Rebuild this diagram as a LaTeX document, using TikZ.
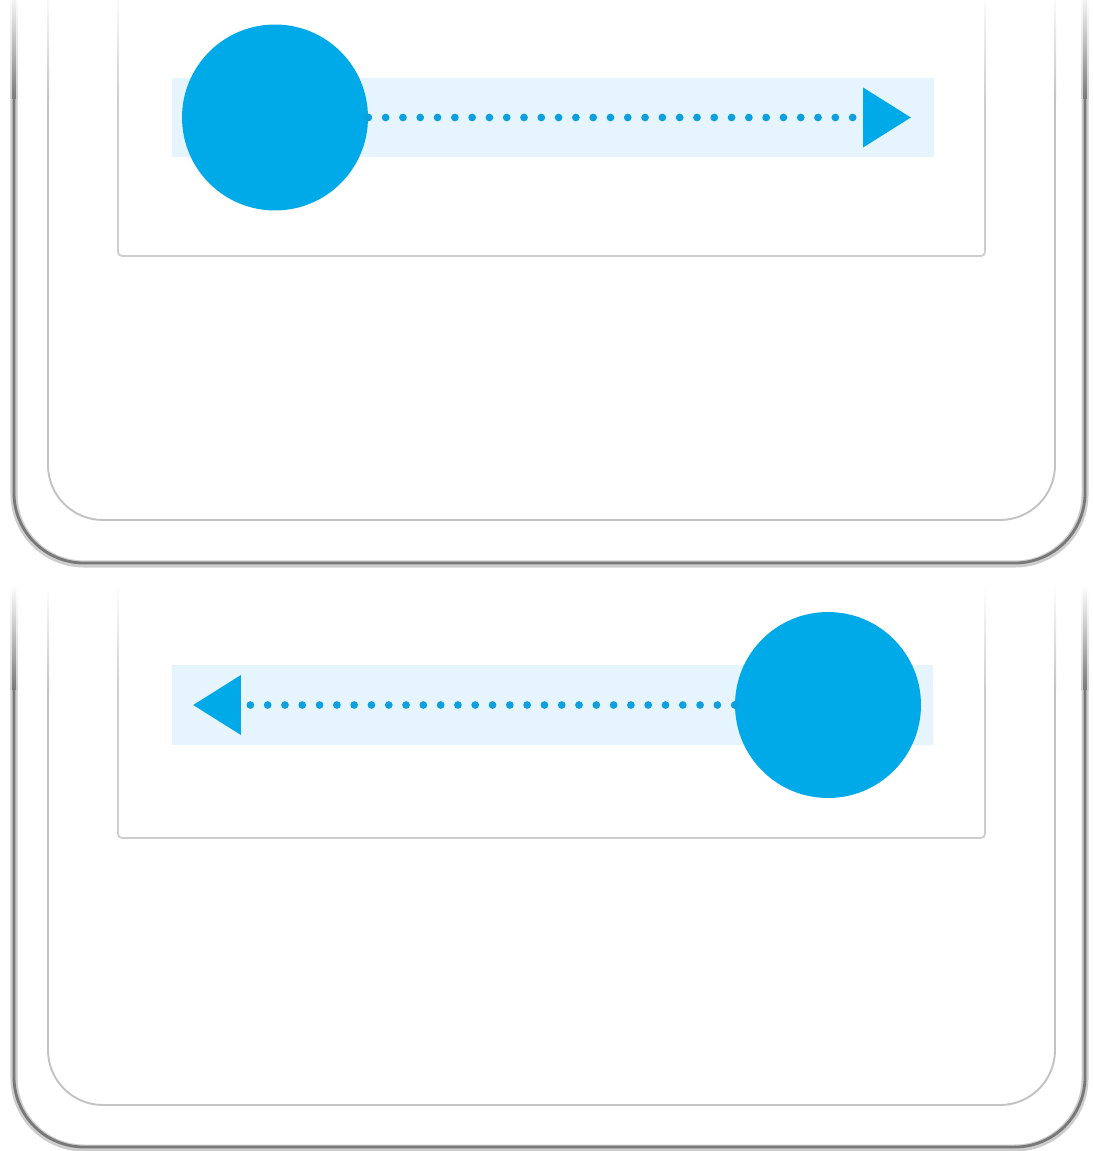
\documentclass[tikz,border=0pt]{standalone}
\usepackage{tikz}
\usetikzlibrary{arrows.meta, positioning}
\definecolor{knobblue}{RGB}{0, 169, 232}
\definecolor{dotblue}{RGB}{14, 160, 222}
\definecolor{trackblue}{RGB}{230, 244, 253}
\definecolor{framegray}{RGB}{120, 120, 120}
\definecolor{shadowgray}{RGB}{205, 205, 205}
\definecolor{innergray}{RGB}{195, 195, 195}
\definecolor{cardgray}{RGB}{205, 205, 205}

% side lines that fade out towards the top of a panel
\newcommand{\fadesides}[2]{%
    \foreach \xs in {14,1085} {
        \shade[top color=white, bottom color=shadowgray] (\xs-3.5,#1) rectangle (\xs+3.5,#2);
        \shade[top color=white, bottom color=framegray] (\xs-1.4,#1) rectangle (\xs+1.4,#2);
    }
    \foreach \xs in {48,1055}
        \shade[top color=white, bottom color=innergray] (\xs-1,#1) rectangle (\xs+1,#2);
    \foreach \xs in {118,985}
        \shade[top color=white, bottom color=cardgray] (\xs-0.9,#1) rectangle (\xs+0.9,#2);
}

\begin{document}
\begin{tikzpicture}[
    x=0.02cm, y=-0.02cm,
    outerframe/.style={draw=framegray, line width=1.6pt, rounded corners=1.4cm},
    outershadow/.style={draw=shadowgray, line width=4pt, rounded corners=1.4cm},
    innerframe/.style={draw=innergray, line width=1.1pt, rounded corners=1.1cm},
    card/.style={draw=cardgray, line width=1pt, rounded corners=0.08cm},
    track/.style={fill=trackblue, draw=none},
    knob/.style={circle, fill=knobblue, draw=none, minimum size=3.72cm, inner sep=0pt},
    slide/.style={dotblue, line width=4.4pt, line cap=round, dash pattern=on 0pt off 0.346cm,
        -{Triangle[length=0.96cm, width=1.16cm, line cap=butt, color=knobblue]}}
]
    \useasboundingbox (0,0) rectangle (1092,1151);

    % top panel
    \fadesides{-10}{100}
    \draw[outershadow] (14,100) -- (14,564) -- (1085,564) -- (1085,100);
    \draw[outerframe] (14,100) -- (14,563) -- (1085,563) -- (1085,100);
    \draw[innerframe] (48,100) -- (48,520) -- (1055,520) -- (1055,100);
    \draw[card] (118,100) -- (118,256) -- (985,256) -- (985,100);

    \fill[track] (172,78) rectangle (934,157);
    \node[knob] (knobA) at (275,117.5) {};
    \coordinate (tipA) at (911,117.5);
    \draw[slide] (knobA.east) -- (tipA);

    % bottom panel
    \fadesides{585}{690}
    \draw[outershadow] (14,690) -- (14,1148) -- (1085,1148) -- (1085,690);
    \draw[outerframe] (14,690) -- (14,1147) -- (1085,1147) -- (1085,690);
    \draw[innerframe] (48,690) -- (48,1105) -- (1055,1105) -- (1055,690);
    \draw[card] (118,690) -- (118,838) -- (985,838) -- (985,690);

    \fill[track] (172,665) rectangle (933,745);
    \node[knob] (knobB) at (828,705) {};
    \coordinate (tipB) at (193,705);
    \draw[slide] (knobB.west) -- (tipB);
\end{tikzpicture}
\end{document}
